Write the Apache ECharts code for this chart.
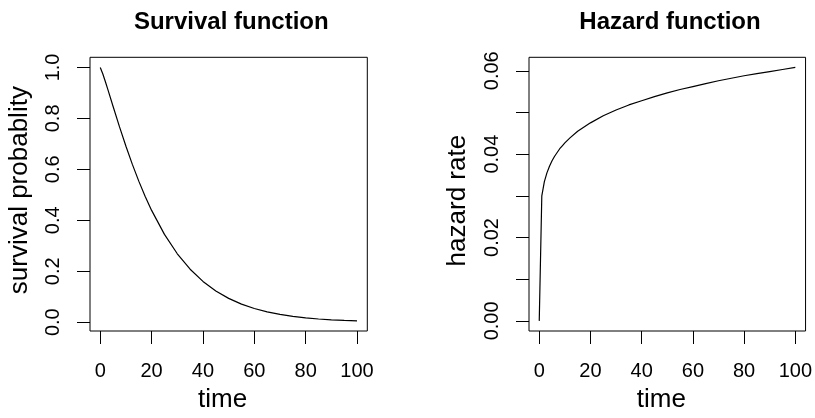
<!DOCTYPE html>
<html>
<head>
<meta charset="utf-8">
<script src="https://cdn.jsdelivr.net/npm/echarts@6/dist/echarts.min.js"></script>
<style>
html,body{margin:0;padding:0;background:#fff;}
#c{width:815px;height:418px;}
</style>
</head>
<body>
<div id="c"></div>
<script>
// Survival function
const survTime = [0, 1, 2, 3, 5, 7.5, 10, 12.5, 15, 17.5, 20, 25, 30, 35, 40, 45, 50, 55, 60, 65, 70, 75, 80, 85, 90, 95, 100];
const survProb = [1, 0.9743, 0.9438, 0.9118, 0.8466, 0.7666, 0.6905, 0.6194, 0.5537, 0.4936, 0.4389, 0.3446, 0.2685, 0.2079, 0.1601, 0.1226, 0.0935, 0.0710, 0.0537, 0.0405, 0.0304, 0.0228, 0.0170, 0.0126, 0.0094, 0.0070, 0.0051];
// Hazard function
const hazTime = [0, 1, 2, 3, 4, 5, 6, 7, 8, 9, 10, 12, 15, 20, 25, 30, 35, 40, 45, 50, 55, 60, 65, 70, 75, 80, 85, 90, 95, 100];
const hazRate = [0, 0.0300, 0.0334, 0.0355, 0.0371, 0.0384, 0.0395, 0.0404, 0.0413, 0.0420, 0.0427, 0.0439, 0.0455, 0.0475, 0.0492, 0.0506, 0.0518, 0.0528, 0.0538, 0.0547, 0.0555, 0.0562, 0.0569, 0.0576, 0.0582, 0.0588, 0.0593, 0.0598, 0.0603, 0.0608];
// Tick labels
const xTicks = [0, 20, 40, 60, 80, 100];
const survYTicks = [0, 0.2, 0.4, 0.6, 0.8, 1.0];
const hazYTicks = [0, 0.01, 0.02, 0.03, 0.04, 0.05, 0.06];
const hazYLabels = [0, 0.02, 0.04, 0.06];
const titles = ['Survival function', 'Hazard function'];
const yNames = ['survival probablity', 'hazard rate'];
const xName = 'time';

const FONT = 'Liberation Sans, Arial, Helvetica, sans-serif';
const chart = echarts.init(document.getElementById('c'), null, {renderer: 'canvas'});

function xAxisCfg(gi) {
  return {
    type: 'value', gridIndex: gi, min: -4, max: 104, position: 'bottom',
    name: xName, nameLocation: 'middle', nameGap: 56,
    nameTextStyle: {fontFamily: FONT, fontSize: 26, color: '#000', padding: [0, 12, 0, 0]},
    axisLine: {show: false, onZero: false},
    axisTick: {show: true, inside: false, length: 13, customValues: xTicks, lineStyle: {color: '#000', width: 1}},
    axisLabel: {customValues: xTicks, fontFamily: FONT, fontSize: 20, color: '#000', margin: 30},
    splitLine: {show: false}
  };
}

const option = {
  animation: false,
  backgroundColor: '#fff',
  title: [
    {text: titles[0], left: 226.3, top: 5, textAlign: 'center',
     textStyle: {fontFamily: FONT, fontSize: 24, fontWeight: 'bold', color: '#000'}},
    {text: titles[1], left: 665, top: 5, textAlign: 'center',
     textStyle: {fontFamily: FONT, fontSize: 24, fontWeight: 'bold', color: '#000'}}
  ],
  grid: [
    {left: 90, top: 57.3, width: 277.3, height: 276, show: true, borderColor: '#000', borderWidth: 1, backgroundColor: 'transparent'},
    {left: 529, top: 57.3, width: 276.7, height: 276, show: true, borderColor: '#000', borderWidth: 1, backgroundColor: 'transparent'}
  ],
  xAxis: [xAxisCfg(0), xAxisCfg(1)],
  yAxis: [
    {
      type: 'value', gridIndex: 0, min: -0.0346, max: 1.0398, position: 'left',
      name: yNames[0], nameLocation: 'middle', nameGap: 57,
      nameTextStyle: {fontFamily: FONT, fontSize: 26, color: '#000', padding: [0, 0, 0, 8]},
      axisLine: {show: false, onZero: false},
      axisTick: {show: true, inside: false, length: 13, customValues: survYTicks, lineStyle: {color: '#000', width: 1}},
      axisLabel: {customValues: survYTicks, rotate: 90, fontFamily: FONT, fontSize: 20, color: '#000', margin: 27,
                  formatter: v => v.toFixed(1)},
      splitLine: {show: false}
    },
    {
      type: 'value', gridIndex: 1, min: -0.00243, max: 0.06323, position: 'left',
      name: yNames[1], nameLocation: 'middle', nameGap: 58,
      nameTextStyle: {fontFamily: FONT, fontSize: 26, color: '#000', padding: [0, 13, 0, 0]},
      axisLine: {show: false, onZero: false},
      axisTick: {show: true, inside: false, length: 13, customValues: hazYTicks, lineStyle: {color: '#000', width: 1}},
      axisLabel: {customValues: hazYLabels, rotate: 90, fontFamily: FONT, fontSize: 20, color: '#000', margin: 27,
                  formatter: v => v.toFixed(2)},
      splitLine: {show: false}
    }
  ],
  series: [
    {type: 'line', xAxisIndex: 0, yAxisIndex: 0, showSymbol: false, silent: true,
     lineStyle: {color: '#000', width: 1.2},
     data: survTime.map((t, i) => [t, survProb[i]])},
    {type: 'line', xAxisIndex: 1, yAxisIndex: 1, showSymbol: false, silent: true,
     lineStyle: {color: '#000', width: 1.2},
     data: hazTime.map((t, i) => [t, hazRate[i]])}
  ]
};
chart.setOption(option);
</script>
</body>
</html>
